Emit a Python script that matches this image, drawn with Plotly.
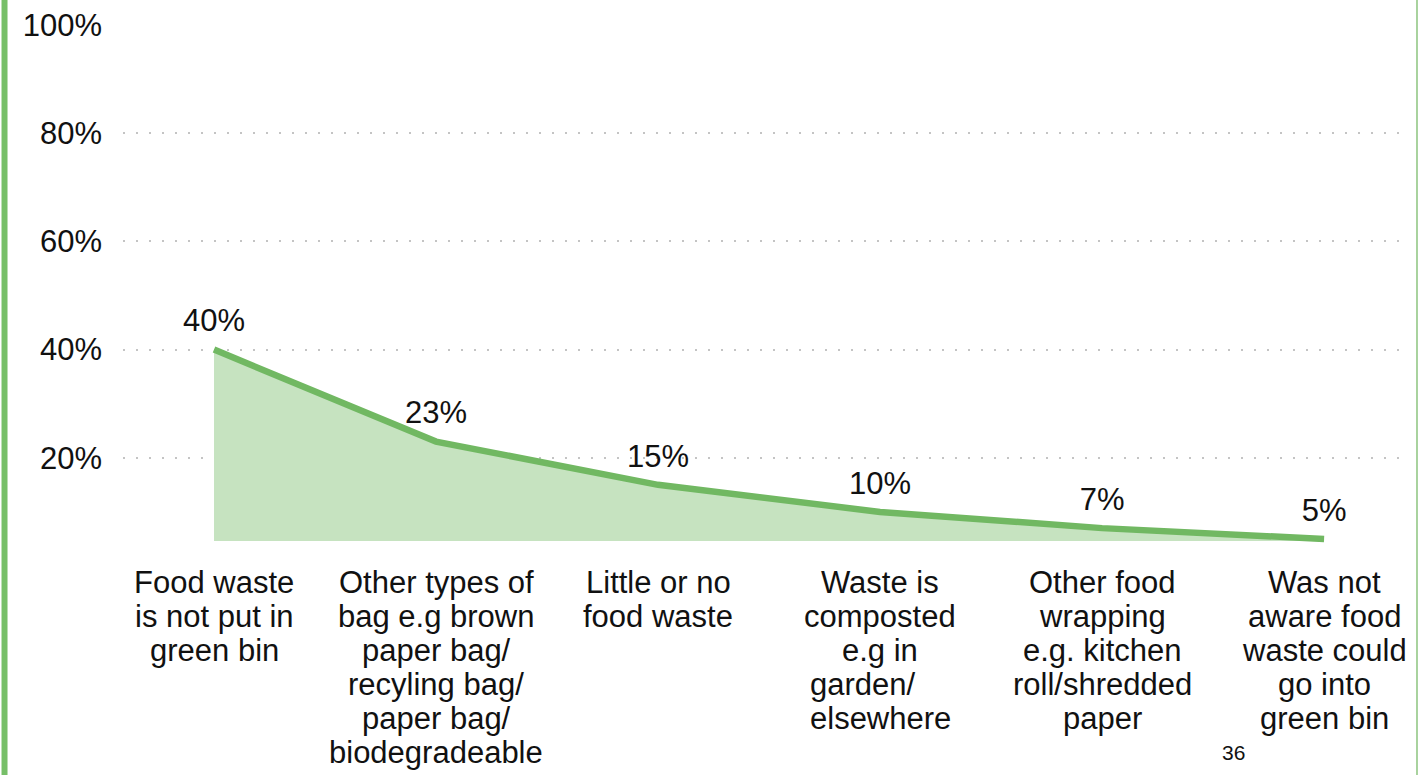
import plotly.graph_objects as go

category_lines = [
    ["Food waste", "is not put in", "green bin"],
    ["Other types of", "bag e.g brown", "paper bag/", "recyling bag/", "paper bag/", "biodegradeable"],
    ["Little or no", "food waste"],
    ["Waste is", "composted", "e.g in", "garden/&nbsp;&nbsp;&nbsp;&nbsp;", "elsewhere"],
    ["Other food", "wrapping", "e.g. kitchen", "roll/shredded", "paper"],
    ["Was not", "aware food", "waste could", "go into", "green bin"],
]
values = [40, 23, 15, 10, 7, 5]
value_labels = ["40%", "23%", "15%", "10%", "7%", "5%"]
area_floor = [4.6] * len(values)
y_ticks = [20, 40, 60, 80, 100]
y_tick_labels = ["20%", "40%", "60%", "80%", "100%"]

positions = list(range(len(category_lines)))

LINE = "#71b862"
FILL = "#c6e3c0"
FONT = "Liberation Sans, Arial, sans-serif"
TXT = "#111111"
FS = 31
LINE_GAP = 34  # tight line spacing of the category captions

fig = go.Figure()

# invisible floor the shaded area is filled down to
fig.add_trace(go.Scatter(
    x=positions, y=area_floor, mode="lines",
    line=dict(width=0, color=FILL), hoverinfo="skip", showlegend=False,
))
# transparent markers lift the value labels clear of the line
fig.add_trace(go.Scatter(
    x=positions, y=values, mode="lines+markers+text",
    fill="tonexty", fillcolor=FILL,
    line=dict(color=LINE, width=6.5),
    marker=dict(size=15, opacity=0),
    text=value_labels, textposition="top center",
    textfont=dict(family=FONT, size=FS, color=TXT),
    showlegend=False,
))

# category captions, one annotation per line so the leading stays tight
annotations = []
for pos, lines in zip(positions, category_lines):
    for k, line in enumerate(lines):
        annotations.append(dict(
            text=line, xref="x", yref="paper", x=pos, y=0,
            xanchor="center", yanchor="middle",
            yshift=-16 - LINE_GAP * k, showarrow=False,
            font=dict(family=FONT, size=FS, color=TXT),
        ))

annotations.append(dict(
    text="36", xref="paper", yref="paper",
    x=(1233 - 123) / 1285, y=(566 - 752) / 541,
    xanchor="center", yanchor="middle", showarrow=False,
    font=dict(family=FONT, size=21, color=TXT),
))

fig.update_layout(
    width=1418, height=775,
    margin=dict(l=123, r=10, t=25, b=209),
    paper_bgcolor="white", plot_bgcolor="white",
    font=dict(family=FONT, color=TXT),
    xaxis=dict(
        range=[-0.41, 5.378],
        showticklabels=False, automargin=False,
        showgrid=False, zeroline=False, showline=False, ticks="",
    ),
    yaxis=dict(
        range=[0, 100], automargin=False,
        tickmode="array", tickvals=y_ticks, ticktext=y_tick_labels,
        tickfont=dict(family=FONT, size=FS, color=TXT),
        showgrid=True, gridcolor="#c4c4c4", gridwidth=2, griddash="2px,11px",
        zeroline=False, showline=False, ticks="", ticklabelstandoff=20,
    ),
    shapes=[
        dict(type="line", xref="paper", yref="paper",
             x0=-0.0922, x1=-0.0922, y0=-1, y1=2,
             line=dict(color="#77bf68", width=6)),
        dict(type="line", xref="paper", yref="paper",
             x0=1.0070, x1=1.0070, y0=-1, y1=2,
             line=dict(color="#8cc47e", width=1.5)),
    ],
    annotations=annotations,
)

fig.write_html("out.html")
